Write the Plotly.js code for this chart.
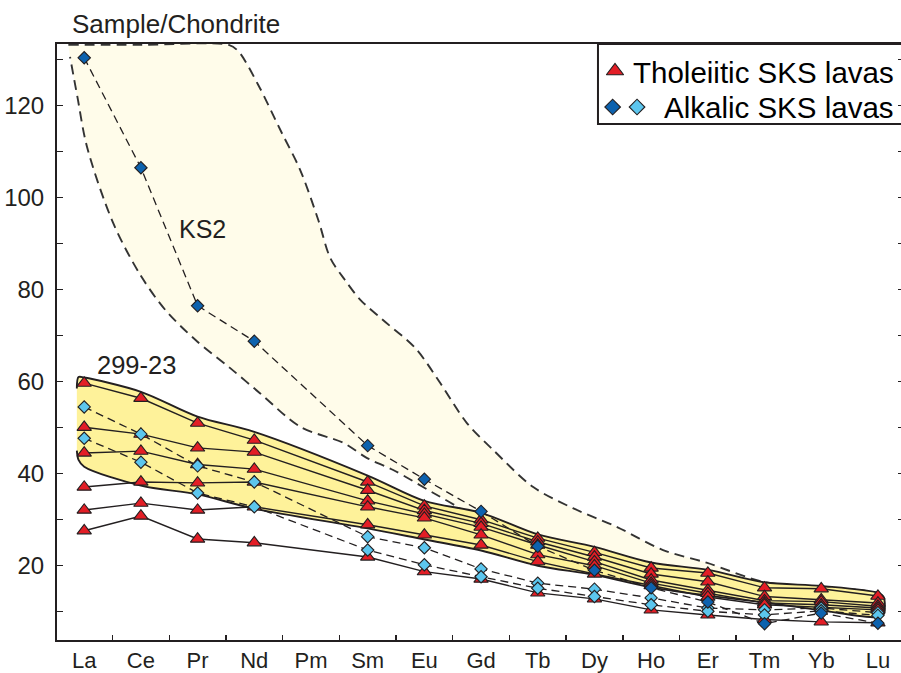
<!DOCTYPE html>
<html>
<head>
<meta charset="utf-8">
<script src="https://cdn.plot.ly/plotly-3.0.1.min.js"></script>
<style>
  html, body { margin: 0; padding: 0; background: #ffffff; overflow: hidden; }
  #chart { width: 906px; height: 673px; }
</style>
</head>
<body>
<div id="chart"></div>
<script>
// Rare-earth elements in chondrite-normalised order (Pm has no data)
const REE = ['La', 'Ce', 'Pr', 'Nd', 'Pm', 'Sm', 'Eu', 'Gd', 'Tb', 'Dy', 'Ho', 'Er', 'Tm', 'Yb', 'Lu'];

// Tholeiitic SKS lavas (sample / chondrite)
const thol_1 = [59.7, 56.4, 51.0, 47.3, null, 38.2, 33.0, 30.0, 26.0, 22.9, 19.5, 18.4, 15.2, 15.0, 13.4];
const thol_2 = [50.1, 48.6, 45.6, 44.7, null, 36.4, 32.0, 29.2, 25.2, 21.9, 18.2, 16.5, 13.3, 12.6, 11.9];
const thol_3 = [44.5, 44.9, 42.0, 41.0, null, 34.1, 31.2, 28.4, 24.5, 20.9, 16.9, 14.7, 12.4, 12.2, 11.2];
const thol_4 = [37.1, 38.2, 38.0, 38.2, null, 32.8, 30.4, 26.7, 22.4, 20.0, 16.2, 14.0, 11.9, 11.5, 10.8];
const thol_5 = [32.1, 33.6, 32.1, 32.8, null, 28.9, 26.7, 24.5, 20.9, 18.2, 15.7, 13.2, 11.5, 11.0, 10.4];
const thol_6 = [27.6, 30.8, 25.8, 25.0, null, 21.9, 18.7, 17.1, 14.1, 12.8, 10.4, 9.3, 8.3, 7.8, 7.6];

// Alkalic SKS lavas
const alk_1 = [54.5, 48.6, 41.7, 38.2, null, 26.3, 23.9, 19.3, 16.2, 14.9, 13.0, 10.8, 10.4, 10.8, 9.8];
const alk_2 = [47.7, 42.5, 35.8, 32.8, null, 23.4, 20.2, 17.6, 15.1, 13.3, 11.5, 10.1, 9.3, 10.2, 9.2];
const ks2   = [130.4, 106.5, 76.5, 68.8, null, 46.1, 38.8, 31.8, 24.2, 19.0, 15.2, 12.1, 7.4, 9.7, 7.5];

// Field outlines, in (element index, sample/chondrite) units
const ks2Field_x = [-0.28, 1.0, 2.55, 2.72, 3.07, 3.46, 3.81, 4.13, 4.34, 4.6, 4.87, 5.27, 5.84, 6.28, 6.75,
                    7.21, 7.92, 8.62, 9.4, 10.21, 10.99, 11.98, 12.98, 13.86,
                    13.86, 13.0, 12.0, 11.0, 10.0, 9.0, 8.0, 7.0, 6.58, 6.16, 5.45, 4.99, 4.57, 3.81,
                    3.1, 2.57, 1.96, 1.43, 0.99, 0.51, 0.05, -0.12, -0.25];
const ks2Field_y = [133.2, 133.2, 133.2, 131.8, 124.5, 114.7, 106.0, 95.1, 86.9, 82.1, 77.8, 73.4, 67.3, 59.7, 51.0,
                    45.2, 37.1, 32.5, 28.4, 23.4, 20.6, 16.5, 15.2, 14.1,
                    12.5, 13.5, 14.5, 16.5, 18.5, 21.5, 24.5, 29.0, 32.8, 35.8, 40.8, 43.4, 46.7, 50.2,
                    57.5, 63.0, 69.1, 75.6, 83.2, 94.5, 111.0, 121.9, 130.6];

const tholField_x = [-0.13, -0.1, 0, 1, 2, 3, 5, 6, 7, 8, 9, 10, 11, 12, 13, 14, 14.1, 14.1,
                     14, 13, 12, 11, 10, 9, 8, 7, 6, 5, 3, 2, 1, 0, -0.1, -0.13];
const tholField_y = [58.5, 61.0, 60.9, 57.8, 52.4, 49.1, 39.6, 34.1, 31.5, 26.8, 24.1, 20.7, 19.1, 16.4, 15.6, 14.1, 13.2, 9.4,
                     8.8, 10.3, 12.0, 13.5, 15.3, 18.0, 20.0, 23.3, 25.7, 28.1, 32.4, 35.5, 37.4, 41.5, 43.0, 45.0];

const idx = REE.map((_, i) => i);
const boundaryTicks = REE.slice(0, -1).map((_, i) => i + 0.5);

const INK = '#231f20';
const RED = '#e31e26';
const DARK_BLUE = '#0d62ae';
const LIGHT_BLUE = '#5cc6ee';
const CREAM = '#fffcea';
const YELLOW = '#fef29a';
const FONT = 'Liberation Sans, Arial, Helvetica, sans-serif';

const traces = [];

// Field of KS2-type compositions (dashed outline)
traces.push({
  x: ks2Field_x, y: ks2Field_y, type: 'scatter', mode: 'lines',
  fill: 'toself', fillcolor: CREAM,
  line: { color: '#333333', width: 1.9, dash: '10px,6px', shape: 'spline', smoothing: 0.9 },
  hoverinfo: 'skip', showlegend: false
});
// Tholeiitic field (solid outline)
traces.push({
  x: tholField_x, y: tholField_y, type: 'scatter', mode: 'lines',
  fill: 'toself', fillcolor: YELLOW,
  line: { color: INK, width: 1.9, shape: 'spline', smoothing: 0.9 },
  hoverinfo: 'skip', showlegend: false
});

const tholSeries = [thol_1, thol_2, thol_3, thol_4, thol_5, thol_6];
const alkSeries = [
  { v: alk_1, c: LIGHT_BLUE },
  { v: alk_2, c: LIGHT_BLUE },
  { v: ks2, c: DARK_BLUE }
];

// Connecting lines first, so every symbol sits on top of them
tholSeries.forEach(v => traces.push({
  x: idx, y: v, type: 'scatter', mode: 'lines', connectgaps: true,
  line: { color: INK, width: 1.4 }, hoverinfo: 'skip', showlegend: false
}));
alkSeries.forEach(s => traces.push({
  x: idx, y: s.v, type: 'scatter', mode: 'lines', connectgaps: true,
  line: { color: INK, width: 1.3, dash: '8px,5px' }, hoverinfo: 'skip', showlegend: false
}));
tholSeries.forEach(v => traces.push({
  x: idx, y: v, type: 'scatter', mode: 'markers',
  marker: { symbol: 'triangle-up', size: 12.5, color: RED, line: { color: INK, width: 1.1 } },
  hoverinfo: 'skip', showlegend: false
}));
alkSeries.forEach(s => traces.push({
  x: idx, y: s.v, type: 'scatter', mode: 'markers',
  marker: { symbol: 'diamond', size: 9.5, color: s.c, line: { color: INK, width: 1.1 } },
  hoverinfo: 'skip', showlegend: false
}));

// Key symbols, on a unit overlay axis
traces.push({
  x: [0.6588], y: [0.9547], xaxis: 'x2', yaxis: 'y2', type: 'scatter', mode: 'markers',
  marker: { symbol: 'triangle-up', size: 15, color: RED, line: { color: INK, width: 1.1 } },
  hoverinfo: 'skip', showlegend: false
});
traces.push({
  x: [0.6560, 0.6848], y: [0.8943, 0.8943], xaxis: 'x2', yaxis: 'y2', type: 'scatter', mode: 'markers',
  marker: { symbol: 'diamond', size: 12, color: [DARK_BLUE, LIGHT_BLUE], line: { color: INK, width: 1.1 } },
  hoverinfo: 'skip', showlegend: false
});

const layout = {
  width: 906, height: 673,
  margin: { l: 57, r: 2, t: 44, b: 33, pad: 0 },
  paper_bgcolor: '#ffffff', plot_bgcolor: '#ffffff',
  font: { family: FONT, color: INK },
  showlegend: false,
  xaxis: {
    range: [-0.48, 14.46],
    tickmode: 'array', tickvals: idx, ticktext: REE,
    ticks: '', showgrid: false, zeroline: false,
    showline: true, linewidth: 2, linecolor: INK, mirror: true,
    tickfont: { size: 22, color: INK },
    ticklabelstandoff: 0,
    minor: { tickmode: 'array', tickvals: boundaryTicks, ticks: 'inside', ticklen: 5, tickwidth: 1.5, tickcolor: INK, showgrid: false }
  },
  yaxis: {
    range: [3.85, 133.4],
    tickmode: 'array', tickvals: [20, 40, 60, 80, 100, 120],
    ticks: 'inside', ticklen: 6, tickwidth: 1.5, tickcolor: INK,
    showgrid: false, zeroline: false,
    showline: true, linewidth: 2, linecolor: INK, mirror: 'ticks',
    tickfont: { size: 24, color: INK },
    ticklabelstandoff: 6,
    minor: { tickmode: 'array', tickvals: [10, 30, 50, 70, 90, 110, 130], ticks: 'inside', ticklen: 6, tickwidth: 1.5, tickcolor: INK, showgrid: false }
  },
  xaxis2: { overlaying: 'x', range: [0, 1], visible: false, fixedrange: true },
  yaxis2: { overlaying: 'y', range: [0, 1], visible: false, fixedrange: true },
  shapes: [
    { type: 'rect', xref: 'paper', yref: 'paper', x0: 0.6387, x1: 1.02, y0: 0.8658, y1: 1.0,
      line: { color: INK, width: 2 }, fillcolor: '#ffffff', layer: 'below' }
  ],
  annotations: [
    { text: 'Sample/Chondrite', xref: 'paper', yref: 'paper', x: 0.0153, y: 1.0336,
      xanchor: 'left', yanchor: 'middle', showarrow: false, font: { size: 26, color: INK } },
    { text: 'KS2', xref: 'x', yref: 'y', x: 2.08, y: 93.2,
      xanchor: 'center', yanchor: 'middle', showarrow: false, font: { size: 25, color: INK } },
    { text: '299-23', xref: 'x', yref: 'y', x: 0.93, y: 63.6,
      xanchor: 'center', yanchor: 'middle', showarrow: false, font: { size: 25.5, color: INK } },
    { text: 'Tholeiitic SKS lavas', xref: 'paper', yref: 'paper', x: 0.6780, y: 0.9530,
      xanchor: 'left', yanchor: 'middle', showarrow: false, font: { size: 29.5, color: '#000000' } },
    { text: 'Alkalic SKS lavas', xref: 'paper', yref: 'paper', x: 0.7140, y: 0.8930,
      xanchor: 'left', yanchor: 'middle', showarrow: false, font: { size: 29.5, color: '#000000' } }
  ]
};

Plotly.newPlot('chart', traces, layout, { staticPlot: true, displayModeBar: false });
</script>
</body>
</html>
